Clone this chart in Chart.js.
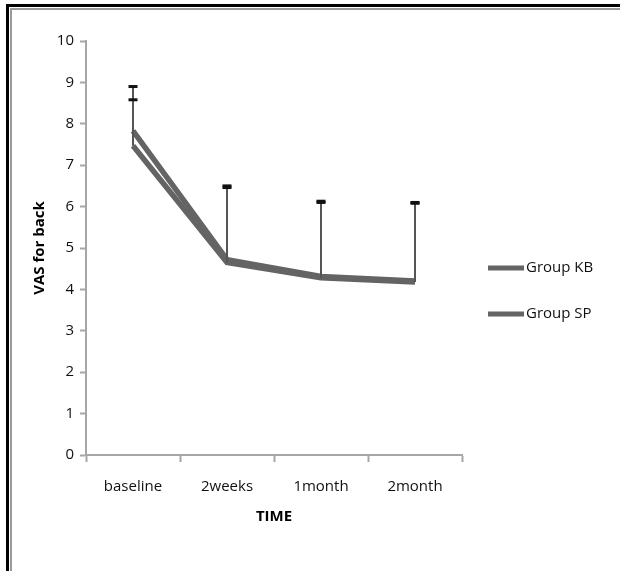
<!DOCTYPE html>
<html>
<head>
<meta charset="utf-8">
<script src="https://cdn.jsdelivr.net/npm/chart.js@4.4.1/dist/chart.umd.min.js"></script>
<style>
  body { margin: 0; background: #fff; }
  .outer { position: absolute; left: 6px; top: 4px; width: 700px; height: 700px;
           border-left: 3px solid #000; border-top: 3px solid #000; }
  .inner { position: absolute; left: 10px; top: 8px; width: 700px; height: 700px;
           border-left: 2px solid #999; border-top: 2px solid #999; }
  canvas { position: absolute; left: 0; top: 0; }
</style>
</head>
<body>
<div class="outer"></div>
<div class="inner"></div>
<canvas id="chart" width="620" height="571"></canvas>
<script>
const labels = ["baseline", "2weeks", "1month", "2month"];
const kbMean = [7.83, 4.72, 4.31, 4.2];
const spMean = [7.47, 4.65, 4.28, 4.18];
// upper error bar lengths (only the + side is shown)
const kbErr = [1.07, 1.78, 1.82, 1.9];
const spErr = [1.11, 1.81, 1.82, 1.9];
const yTicks = [0, 1, 2, 3, 4, 5, 6, 7, 8, 9, 10];

const lineColor = "#646464";
const font = "'Open Sans', sans-serif";

// === Error bars drawn from each dataset's err array ===
const errorBars = {
  id: "errorBars",
  afterDatasetsDraw(chart) {
    const ctx = chart.ctx;
    const y = chart.scales.y;
    chart.data.datasets.forEach((ds, i) => {
      const meta = chart.getDatasetMeta(i);
      meta.data.forEach((pt, j) => {
        const top = y.getPixelForValue(ds.data[j] + ds.err[j]);
        ctx.save();
        ctx.strokeStyle = "#555";
        ctx.lineWidth = 2;
        ctx.beginPath();
        ctx.moveTo(pt.x, pt.y);
        ctx.lineTo(pt.x, top);
        ctx.stroke();
        ctx.strokeStyle = "#111";
        ctx.lineWidth = 3;
        ctx.beginPath();
        ctx.moveTo(pt.x - 4.5, top);
        ctx.lineTo(pt.x + 4.5, top);
        ctx.stroke();
        ctx.restore();
      });
    });
  },
};

// === Legend on the right ===
const sideLegend = {
  id: "sideLegend",
  afterDraw(chart) {
    const ctx = chart.ctx;
    chart.data.datasets.forEach((ds, i) => {
      const ly = 268 + i * 46;
      ctx.save();
      ctx.strokeStyle = ds.borderColor;
      ctx.lineWidth = 5;
      ctx.beginPath();
      ctx.moveTo(488, ly);
      ctx.lineTo(524, ly);
      ctx.stroke();
      ctx.fillStyle = "#111";
      ctx.font = "15px " + font;
      ctx.textBaseline = "middle";
      ctx.fillText(ds.label, 526, ly);
      ctx.restore();
    });
  },
};

new Chart(document.getElementById("chart"), {
  type: "line",
  data: {
    labels: labels,
    datasets: [
      {
        label: "Group KB",
        data: kbMean,
        err: kbErr,
        borderColor: lineColor,
        borderWidth: 5.5,
        pointRadius: 0,
        tension: 0,
      },
      {
        label: "Group SP",
        data: spMean,
        err: spErr,
        borderColor: lineColor,
        borderWidth: 5.5,
        pointRadius: 0,
        tension: 0,
      },
    ],
  },
  options: {
    responsive: false,
    animation: false,
    layout: { padding: { left: 0, right: 158, top: 41, bottom: 36 } },
    scales: {
      x: {
        offset: true,
        grid: {
          offset: true,
          drawOnChartArea: false,
          tickLength: 7,
          tickWidth: 2,
          tickColor: "#a6a6a6",
        },
        border: { color: "#a6a6a6", width: 2 },
        ticks: { color: "#111", font: { family: font, size: 15 }, padding: 16, maxRotation: 0 },
        title: {
          display: true,
          text: "TIME",
          color: "#000",
          font: { family: font, size: 15, weight: "bold" },
          padding: { top: 0, bottom: 9 },
        },
        afterFit: (scale) => { scale.height = 80; },
      },
      y: {
        min: 0,
        max: 10,
        afterBuildTicks: (scale) => { scale.ticks = yTicks.map((v) => ({ value: v })); },
        grid: {
          drawOnChartArea: false,
          tickLength: 6,
          tickWidth: 2,
          tickColor: "#a6a6a6",
        },
        border: { color: "#a6a6a6", width: 2 },
        ticks: { color: "#111", font: { family: font, size: 15 }, padding: 6 },
        title: {
          display: true,
          text: "VAS for back",
          color: "#000",
          font: { family: font, size: 15, weight: "bold" },
          padding: { top: 31, bottom: 0 },
        },
        afterFit: (scale) => { scale.width = 86; },
      },
    },
    plugins: {
      legend: { display: false },
      tooltip: { enabled: false },
    },
  },
  plugins: [errorBars, sideLegend],
});
</script>
</body>
</html>
